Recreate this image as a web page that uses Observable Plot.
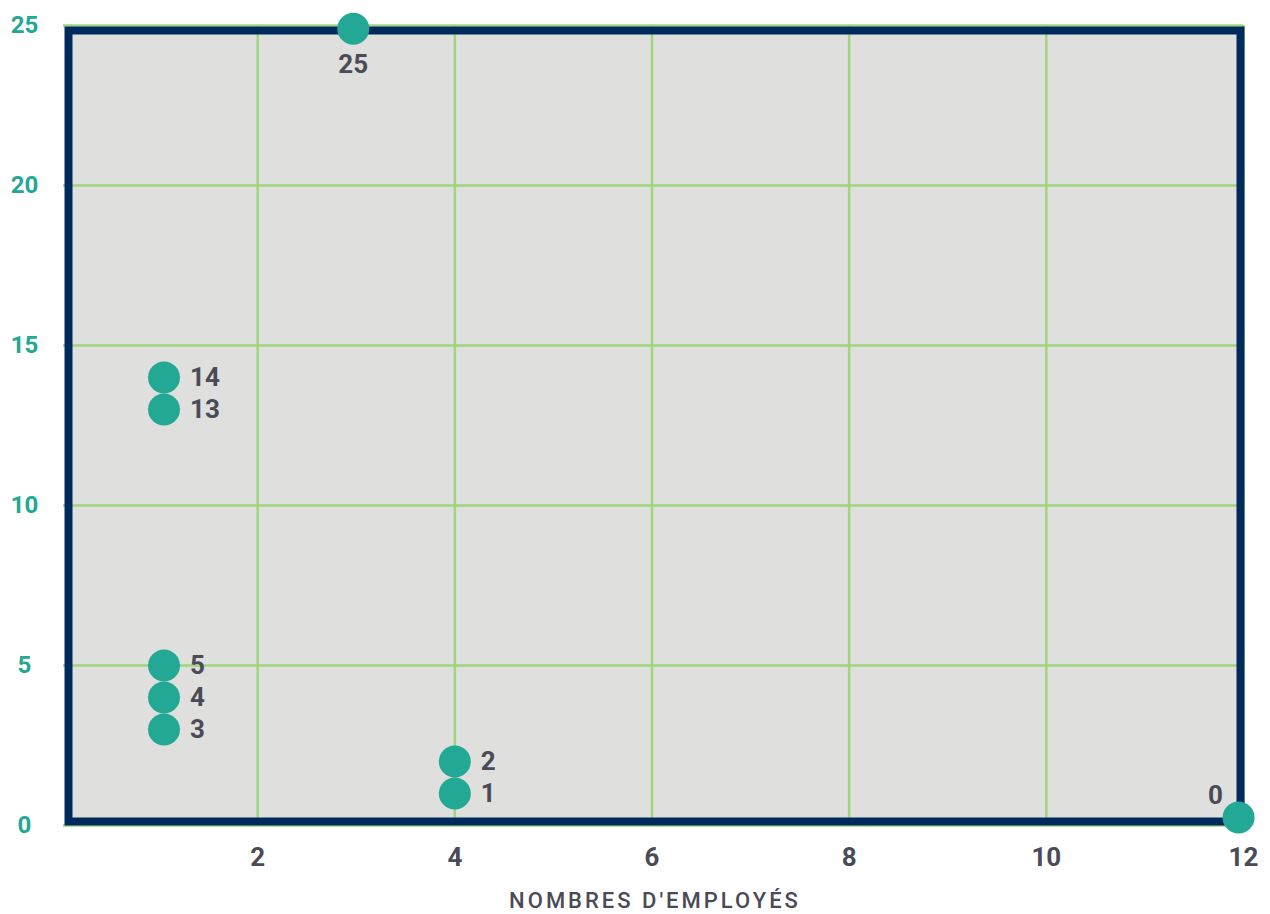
<!DOCTYPE html>
<html><head><meta charset="utf-8">
<script src="https://cdn.jsdelivr.net/npm/d3@7"></script>
<script src="https://cdn.jsdelivr.net/npm/@observablehq/plot@0.6"></script>
<style>
body{margin:0;background:#fff;}
#chart svg{display:block;font-family:Roboto,"DejaVu Sans",sans-serif;}
</style></head><body><div id="chart"></div>
<script>
const employes = [2.97, 1.05, 1.05, 1.05, 1.05, 1.05, 4, 4, 11.95];
const valeurs = [24.9, 14, 13, 5, 4, 3, 2, 1, 0.25];
const etiquettes = ["25", "14", "13", "5", "4", "3", "2", "1", "0"];
const xTicks = [2, 4, 6, 8, 10, 12];
const yTicks = [0, 5, 10, 15, 20, 25];
const xTitle = "NOMBRES D'EMPLOYÉS";

const data = employes.map((x, i) => ({x, y: valeurs[i], label: etiquettes[i]}));
const teal = "#22a895", navy = "#012a5c", grey = "#4a4b57";

const chart = Plot.plot({
  width: 1270, height: 914,
  marginLeft: 60, marginRight: 27, marginTop: 25, marginBottom: 89,
  x: {domain: [0, 12]},
  y: {domain: [0, 25]},
  marks: [
    Plot.frame({fill: "#dfe0de", insetLeft: 8, insetRight: 3, insetTop: 5, insetBottom: 4}),
    Plot.gridX(xTicks, {stroke: "#9fd57d", strokeOpacity: 1, strokeWidth: 2.5}),
    Plot.gridY(yTicks, {stroke: "#9fd57d", strokeOpacity: 1, strokeWidth: 2.5, insetLeft: 3}),
    Plot.frame({stroke: navy, strokeWidth: 8, insetLeft: 8, insetRight: 3, insetTop: 5, insetBottom: 4}),
    Plot.axisX(xTicks, {tickSize: 0, tickPadding: 22, fontSize: 26, fontWeight: 700, fill: grey, label: null}),
    Plot.axisY(yTicks, {tickSize: 0, tickPadding: 36, textAnchor: "middle", fontSize: 24, fontWeight: 700, fill: teal, label: null}),
    Plot.text([xTitle], {frameAnchor: "bottom", dx: 3, dy: 75, lineAnchor: "middle", fontSize: 22, fontWeight: 500, fill: grey}),
    Plot.dot(data, {x: "x", y: "y", r: 16, fill: teal, stroke: null}),
    Plot.text(data.filter(d => d.label !== "25" && d.label !== "0"), {x: "x", y: "y", text: "label", dx: 26, textAnchor: "start", fontSize: 26, fontWeight: 700, fill: grey}),
    Plot.text(data.filter(d => d.label === "25"), {x: "x", y: "y", text: "label", dy: 36, fontSize: 26, fontWeight: 700, fill: grey}),
    Plot.text(data.filter(d => d.label === "0"), {x: "x", y: "y", text: "label", dx: -23, dy: -22, fontSize: 26, fontWeight: 700, fill: grey})
  ]
});
d3.select(chart).selectAll("text").filter(function() { return this.textContent === xTitle; })
  .style("letter-spacing", "3px");
document.getElementById("chart").appendChild(chart);
</script></body></html>
